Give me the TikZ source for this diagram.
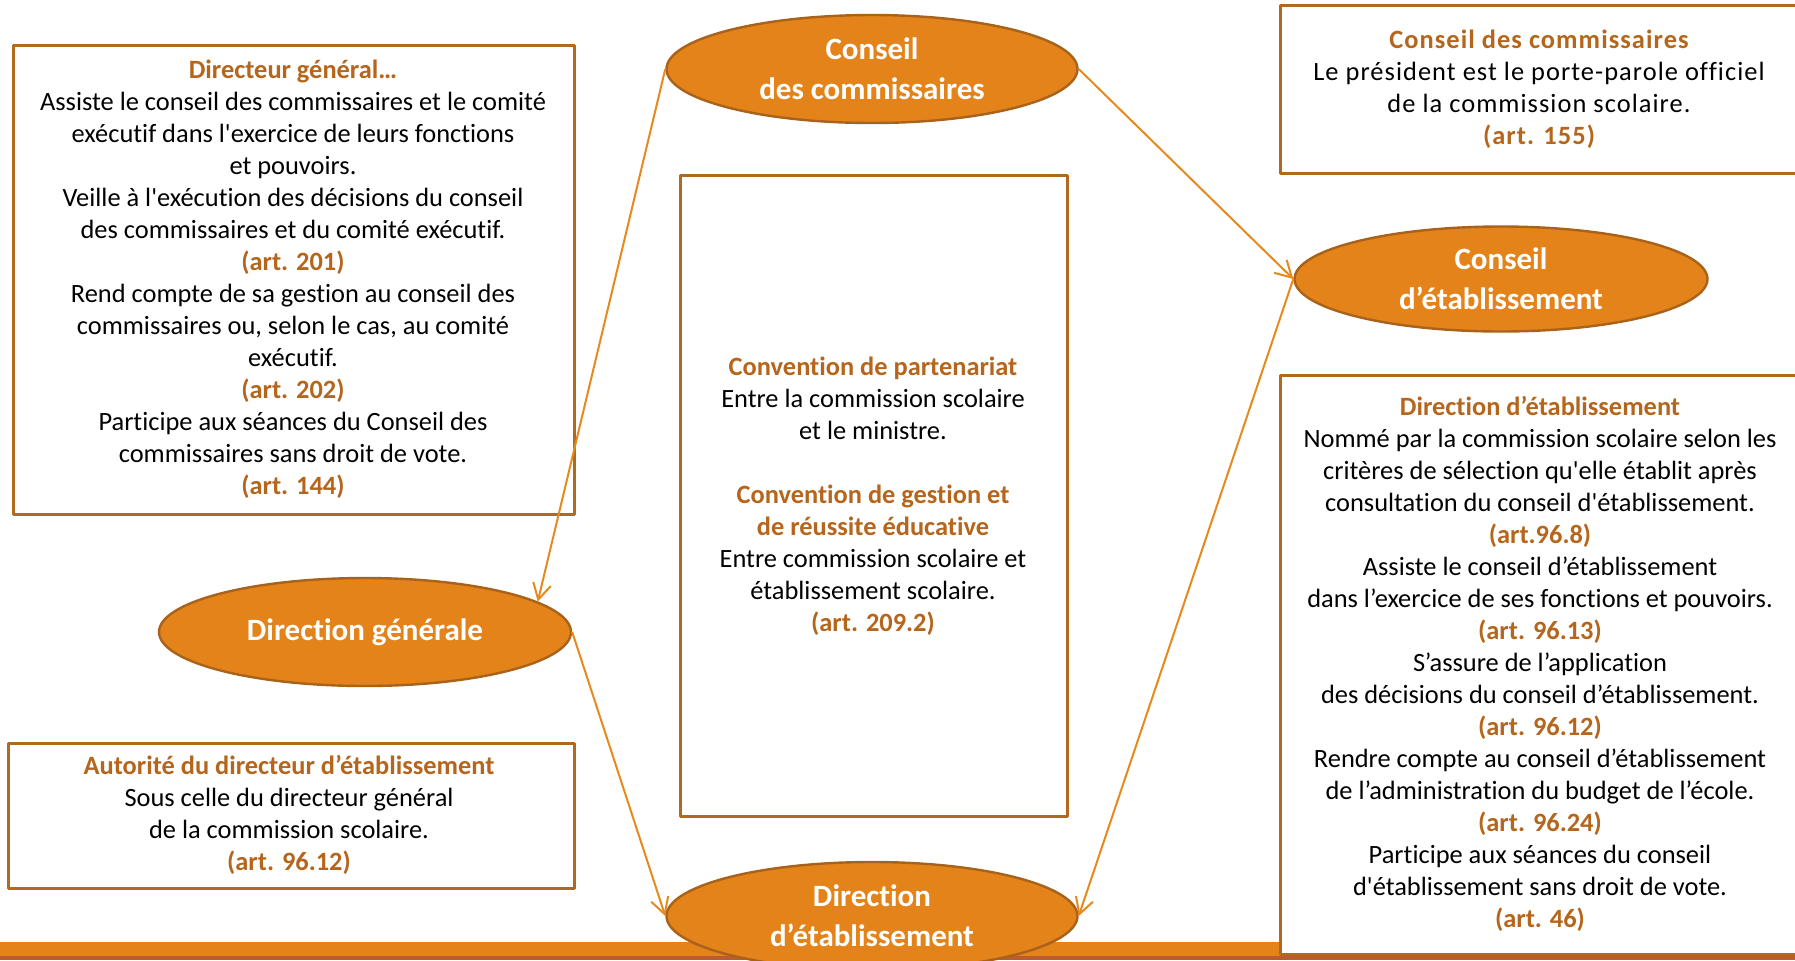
\documentclass[tikz,border=0pt]{standalone}
\usepackage{fontspec}
\setmainfont{Carlito}[Ligatures={TeXOff,NoCommon}]
\newfontfamily\espace{Carlito}[Ligatures={TeXOff,NoCommon},LetterSpace=4]
\usetikzlibrary{arrows.meta,shapes.geometric}
\definecolor{orangeE}{HTML}{E3831A}
\definecolor{bordE}{HTML}{A9621A}
\definecolor{bordC}{HTML}{B06A1F}
\definecolor{brunT}{HTML}{B5661C}
\definecolor{orangeF}{HTML}{E68A1E}
\definecolor{brique}{HTML}{BD5A2E}
\newcommand{\entete}[1]{\textcolor{brunT}{\bfseries #1}}
\begin{document}
\begin{tikzpicture}[x=0.5pt, y=-0.5pt, line join=round, >={Straight Barb[length=8pt,width=9pt]}, font=\fontsize{13.2}{16}\selectfont]
	\tikzset{cadre/.style={draw=bordC, line width=1.5pt, fill=white},
		bulle/.style={ellipse, draw=bordE, line width=1.2pt, fill=orangeE, text=white, inner sep=0pt, align=center, font=\bfseries\fontsize{15.5}{20}\selectfont},
		texte/.style={align=center, inner sep=0pt},
		fleche/.style={->, draw=orangeF, line width=1pt}}
	\useasboundingbox (0,0) rectangle (1795,960);
	%Bande du bas
	\fill[orangeE] (0,942) rectangle (1795,956);
	\fill[brique] (0,956) rectangle (1795,960);
	%Cadres
	\draw[cadre] (13,45) rectangle (574,514);
	\draw[cadre] (8,743) rectangle (574,888);
	\draw[cadre] (680,175) rectangle (1067,816);
	\draw[cadre] (1280,5) rectangle (1810,173);
	\draw[cadre] (1280,375) rectangle (1810,954);
	\node[texte] (dg_note) at (293,279) {\entete{Directeur général…}\\
		Assiste le conseil des commissaires et le comité\\
		exécutif dans l'exercice de leurs fonctions\\
		et pouvoirs.\\
		Veille à l'exécution des décisions du conseil\\
		des commissaires et du comité exécutif.\\
		\entete{(art. 201)}\\
		Rend compte de sa gestion au conseil des\\
		commissaires ou, selon le cas, au comité\\
		exécutif.\\
		\entete{(art. 202)}\\
		Participe aux séances du Conseil des\\
		commissaires sans droit de vote.\\
		\entete{(art. 144)}};
	\node[texte] (autorite) at (289,815) {\entete{Autorité du directeur d’établissement}\\
		Sous celle du directeur général\\
		de la commission scolaire.\\
		\entete{(art. 96.12)}};
	\node[texte] (conventions) at (873,496) {\entete{Convention de partenariat}\\
		Entre la commission scolaire\\
		et le ministre.\\[16pt]
		\entete{Convention de gestion et}\\
		\entete{de réussite éducative}\\
		Entre commission scolaire et\\
		établissement scolaire.\\
		\entete{(art. 209.2)}};
	\node[texte, font=\espace\fontsize{13.2}{16}\selectfont] (cc_note) at (1539,89) {\entete{Conseil des commissaires}\\
		Le président est le porte-parole officiel\\
		de la commission scolaire.\\
		\entete{(art. 155)}};
	\node[texte] (de_note) at (1540,664) {\entete{Direction d’établissement}\\
		Nommé par la commission scolaire selon les\\
		critères de sélection qu'elle établit après\\
		consultation du conseil d'établissement.\\
		\entete{(art.96.8)}\\
		Assiste le conseil d’établissement\\
		dans l’exercice de ses fonctions et pouvoirs.\\
		\entete{(art. 96.13)}\\
		S’assure de l’application\\
		des décisions du conseil d’établissement.\\
		\entete{(art. 96.12)}\\
		Rendre compte au conseil d’établissement\\
		de l’administration du budget de l’école.\\
		\entete{(art. 96.24)}\\
		Participe aux séances du conseil\\
		d'établissement sans droit de vote.\\
		\entete{(art. 46)}};
	%Ellipses
	\node[bulle, minimum width=205.5pt, minimum height=54pt] (cc) at (872,69) {Conseil\\des commissaires};
	\node[bulle, minimum width=206.5pt, minimum height=52.5pt] (ce) at (1501,279) {Conseil\\d’établissement};
	\node[bulle, minimum width=206pt, minimum height=54pt] (dg) at (365,632) {Direction générale};
	\node[bulle, minimum width=205.5pt, minimum height=54pt] (de) at (872,916) {Direction\\d’établissement};
	%Flèches
	\draw[fleche] (cc.west) -- (dg.10);
	\draw[fleche] (cc.east) -- (ce.west);
	\draw[fleche] (dg.east) -- (de.west);
	\draw[fleche] (ce.west) -- (de.east);
\end{tikzpicture}
\end{document}
